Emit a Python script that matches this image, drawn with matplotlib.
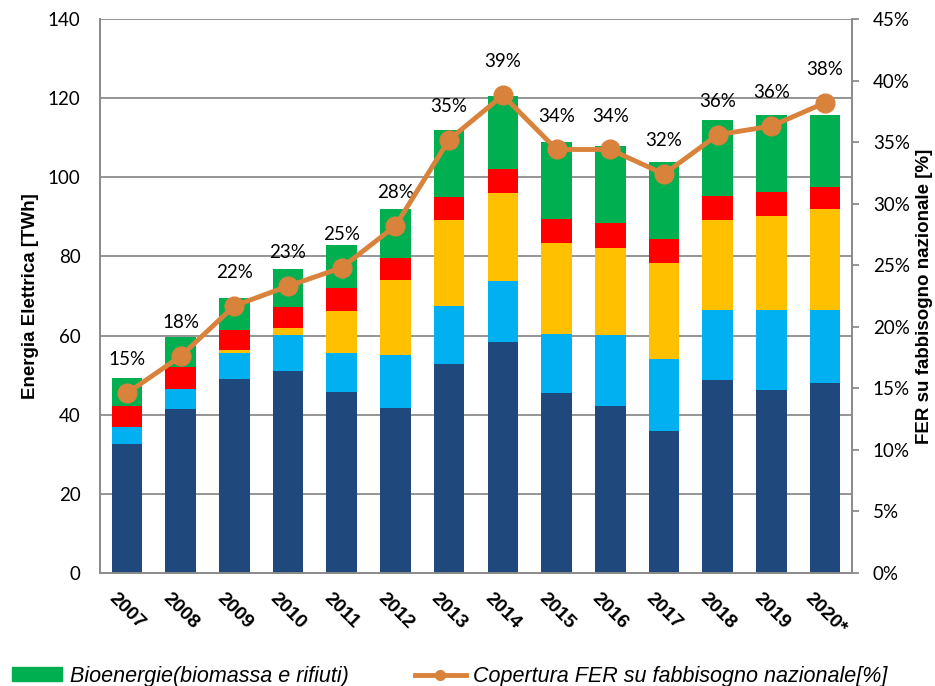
import matplotlib
matplotlib.use("Agg")
import matplotlib.pyplot as plt
import numpy as np
from matplotlib.patches import Patch
from matplotlib.lines import Line2D

years = ["2007", "2008", "2009", "2010", "2011", "2012", "2013",
         "2014", "2015", "2016", "2017", "2018", "2019", "2020*"]

# TWh per source
idro = [32.7, 41.5, 49.1, 51.0, 45.8, 41.8, 52.7, 58.4, 45.4, 42.3, 35.9, 48.7, 46.3, 47.9]
eolico = [4.1, 4.9, 6.5, 9.1, 9.8, 13.4, 14.8, 15.3, 15.0, 17.8, 18.1, 17.8, 20.2, 18.6]
solare = [0.0, 0.2, 0.7, 1.9, 10.7, 18.8, 21.6, 22.3, 22.9, 22.1, 24.4, 22.6, 23.7, 25.5]
geotermico = [5.5, 5.5, 5.2, 5.3, 5.7, 5.6, 5.8, 6.0, 6.1, 6.2, 6.0, 6.2, 6.0, 5.6]
bioenergie = [7.0, 7.6, 7.9, 9.4, 10.8, 12.5, 17.0, 18.5, 19.4, 19.6, 19.5, 19.1, 19.6, 18.2]

# copertura FER su fabbisogno nazionale [%]
copertura = [14.6, 17.6, 21.7, 23.3, 24.8, 28.2, 35.2, 38.8, 34.4, 34.4, 32.4, 35.6, 36.3, 38.2]
etichette = ["15%", "18%", "22%", "23%", "25%", "28%", "35%", "39%",
             "34%", "34%", "32%", "36%", "36%", "38%"]

serie = [idro, eolico, solare, geotermico, bioenergie]
colori = ["#1F497D", "#00B0F0", "#FFC000", "#FF0000", "#00B050"]
arancio = "#D9823B"
grigio = "#8C8C8C"

fig = plt.figure(figsize=(9.35, 6.86), dpi=100)
ax = fig.add_axes([100/935, 1 - 573/686, 752/935, 554/686])
ax2 = ax.twinx()

x = np.arange(len(years))
base = np.zeros(len(years))
for s, c in zip(serie, colori):
    ax.bar(x, s, width=0.57, bottom=base, color=c, zorder=3)
    base += np.array(s)

ax.set_xlim(-0.5, len(years) - 0.5)
ax.set_ylim(0, 140)
ax.set_yticks(range(0, 141, 20))
ax.yaxis.grid(True, color=grigio, linewidth=1.3, zorder=0)
ax.set_axisbelow(True)
ax.set_xticks(x)
ax.set_xticklabels(years, rotation=-45, ha="center", va="top",
                   fontsize=14, fontweight="bold", family="Liberation Sans")
ax.tick_params(axis="x", length=0, pad=12)
ax.tick_params(axis="y", length=0, pad=14, labelsize=13.5)
for lab in ax.get_yticklabels():
    lab.set_family("Lato")
ax.set_ylabel("Energia Elettrica [TWh]", fontsize=13.5, fontweight="bold",
              family="Liberation Sans", labelpad=6)

ax2.plot(x, copertura, color=arancio, linewidth=3.5, marker="o",
         markersize=13.5, zorder=5)
for xi, yi, t in zip(x, copertura, etichette):
    ax2.annotate(t, (xi, yi), xytext=(0, 24), textcoords="offset points",
                 ha="center", va="center", fontsize=13.5, family="Lato")
ax2.set_ylim(0, 45)
ax2.set_yticks(range(0, 46, 5))
ax2.set_yticklabels([f"{v}%" for v in range(0, 46, 5)])
ax2.tick_params(axis="y", length=5, width=1.3, color=grigio, pad=10, labelsize=13.5)
for lab in ax2.get_yticklabels():
    lab.set_family("Lato")
ax2.set_ylabel("FER su fabbisogno nazionale [%]", fontsize=13.5,
               fontweight="bold", family="Liberation Sans", labelpad=4)

for a in (ax, ax2):
    a.spines["top"].set_visible(False)
    for side in ("left", "right", "bottom"):
        a.spines[side].set_color(grigio)
        a.spines[side].set_linewidth(1.3)

handles = [Patch(color=colori[4]),
           Line2D([0], [0], color=arancio, linewidth=3.5, marker="o", markersize=7)]
labels = ["Bioenergie(biomassa e rifiuti)", "Copertura FER su fabbisogno nazionale[%]"]
fig.legend(handles, labels, loc="center left", bbox_to_anchor=(-0.008, 0.014),
           ncol=2, frameon=False, handlelength=2.35, handleheight=0.6,
           handletextpad=0.33, columnspacing=3.1,
           prop={"family": "Liberation Sans", "style": "italic", "size": 15.5})

fig.savefig("out.png", dpi=100)
